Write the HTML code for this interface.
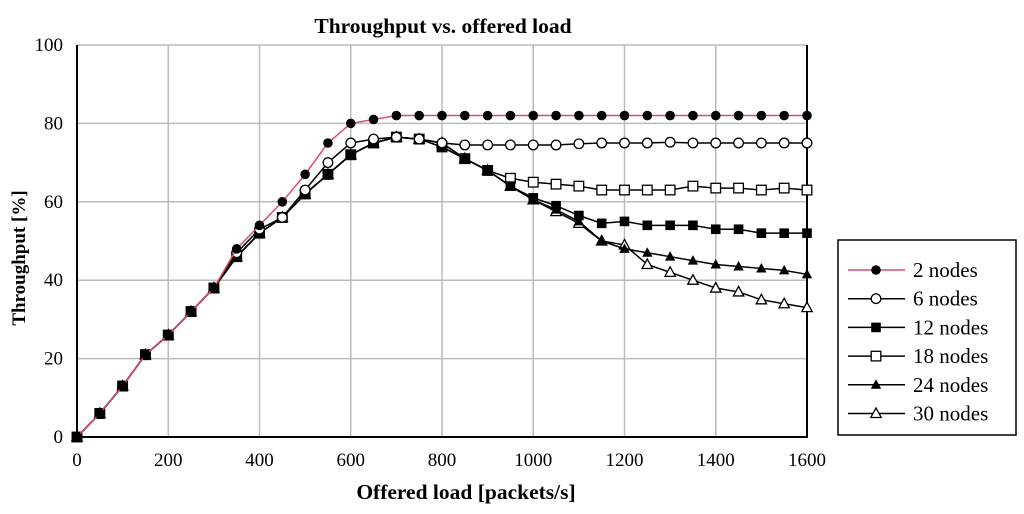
<!DOCTYPE html>
<html><head><meta charset="utf-8"><style>
body{margin:0;background:#fff;}
svg text{font-family:"Liberation Serif",serif;}
</style></head><body>
<svg id="c" width="1024" height="509" xmlns="http://www.w3.org/2000/svg"></svg>
<script>
const xs=[0,50,100,150,200,250,300,350,400,450,500,550,600,650,700,750,800,850,900,950,1000,1050,1100,1150,1200,1250,1300,1350,1400,1450,1500,1550,1600];
const s2=[0,6,13,21,26,32,38,48,54,60,67,75,80,81,82,82,82,82,82,82,82,82,82,82,82,82,82,82,82,82,82,82,82];
const s6=[0,6,13,21,26,32,38,47,53,56,63,70,75,76,76.5,76,75,74.5,74.5,74.5,74.5,74.5,74.8,75,75,75,75.2,75,75,75,75,75,75];
const s18=[0,6,13,21,26,32,38,46,52,56,62,67,72,75,76.5,76,74,71,68,66,65,64.5,64,63,63,63,63,64,63.5,63.5,63,63.5,63];
const s12=[0,6,13,21,26,32,38,46,52,56,62,67,72,75,76.5,76,74,71,68,64,61,59,56.5,54.5,55,54,54,54,53,53,52,52,52];
const s24=[0,6,13,21,26,32,38,46,52,56,62,67,72,75,76.5,76,75,71,68,64,60.5,58,55,50,48,47,46,45,44,43.5,43,42.5,41.5];
const s30=[0,6,13,21,26,32,38,46,52,56,62,67,72,75,76.5,76,75,71,68,64,60.5,57.5,54.5,50,49,44,42,40,38,37,35,34,33];
const names=["2 nodes","6 nodes","12 nodes","18 nodes","24 nodes","30 nodes"];
const xTicks=[0,200,400,600,800,1000,1200,1400,1600];
const yTicks=[0,20,40,60,80,100];
const X=v=>77+v/1600*730, Y=v=>437-v/100*392;
const svg=document.getElementById('c');const NS="http://www.w3.org/2000/svg";
function el(t,a,p){const e=document.createElementNS(NS,t);for(const k in a)e.setAttribute(k,a[k]);(p||svg).appendChild(e);return e;}
xTicks.forEach(t=>{const l=el('line',{x1:X(t),x2:X(t),y1:45,y2:437,stroke:'#bbb','stroke-width':1.5});


const tx=el('text',{x:X(t),y:466,'text-anchor':'middle','font-size':19});tx.textContent=t;

});
yTicks.forEach(t=>{const l=el('line',{x1:77,x2:807,y1:Y(t),y2:Y(t),stroke:'#bbb','stroke-width':1.5});


const tx=el('text',{x:63,y:Y(t)+6,'text-anchor':'end','font-size':19});tx.textContent=t;

});
const ax=el('path',{d:`M77 45V437H807V45`,fill:'none',stroke:'#000','stroke-width':2});


function marker(type,x,y,g){
 if(type==0)return el('circle',{cx:x,cy:y,r:4.8,fill:'#000'},g);
 if(type==1)return el('circle',{cx:x,cy:y,r:4.8,fill:'#fff',stroke:'#000','stroke-width':1.3},g);
 if(type==2)return el('rect',{x:x-4.8,y:y-4.8,width:9.6,height:9.6,fill:'#000'},g);
 if(type==3)return el('rect',{x:x-4.8,y:y-4.8,width:9.6,height:9.6,fill:'#fff',stroke:'#000','stroke-width':1.3},g);
 if(type==4)return el('path',{d:`M${x} ${y-5.5}L${x+5.2} ${y+4}L${x-5.2} ${y+4}Z`,fill:'#000'},g);
 return el('path',{d:`M${x} ${y-5.5}L${x+5.2} ${y+4}L${x-5.2} ${y+4}Z`,fill:'#fff',stroke:'#000','stroke-width':1.3},g);
}
const series=[s2,s6,s12,s18,s24,s30];
const order=[5,4,3,2,1,0];
order.forEach(i=>{const s=series[i];const g=el('g',{});


el('polyline',{points:s.map((v,j)=>X(xs[j])+','+Y(v)).join(' '),fill:'none',stroke:i==0?'#d9506a':'#000','stroke-width':1.5},g);
s.forEach((v,j)=>{const m=marker(i,X(xs[j]),Y(v),g);

});});
const lg=el('g',{});


el('rect',{x:838,y:240,width:178,height:195,fill:'#fff',stroke:'#000','stroke-width':1.5},lg);
names.forEach((n,i)=>{const y=270+i*28.7;const g=el('g',{},lg);


el('line',{x1:848,x2:905,y1:y,y2:y,stroke:i==0?'#d9506a':'#000','stroke-width':1.5},g);
marker(i,876,y,g);
const t=el('text',{x:913,y:y+7,'font-size':21},g);t.textContent=n;});
const tt=el('text',{x:443,y:33,'text-anchor':'middle','font-size':21.5,'font-weight':'bold'});tt.textContent='Throughput vs. offered load';


const xt=el('text',{x:466,y:499,'text-anchor':'middle','font-size':21.5,'font-weight':'bold'});xt.textContent='Offered load [packets/s]';


const yt=el('text',{x:0,y:0,'text-anchor':'middle','font-size':19,'font-weight':'bold',transform:'translate(25,258) rotate(-90)'});yt.textContent='Throughput [%]';


</script>
</body></html>
